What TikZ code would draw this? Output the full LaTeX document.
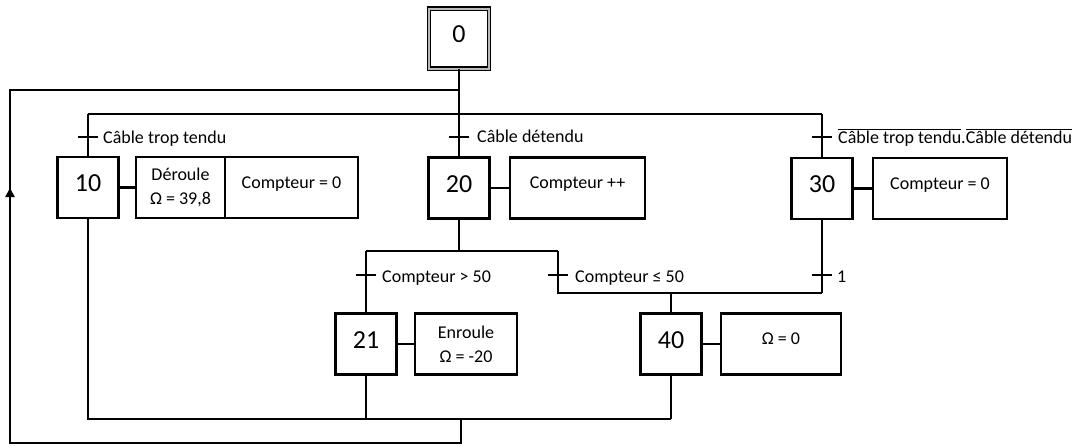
\documentclass[tikz,border=0pt]{standalone}
\usepackage{fontspec}
\setmainfont{Carlito}
\usetikzlibrary{arrows.meta}
\begin{document}
\begin{tikzpicture}[x=1pt,y=-1pt,
  ln/.style={line width=2.3pt},
  stepbox/.style={draw, line width=2.3pt, minimum width=61pt, minimum height=61pt, inner sep=0pt},
  num/.style={inner sep=0pt, font=\fontsize{26}{30}\selectfont},
  actbox/.style={draw, line width=2.3pt, minimum height=61pt, inner sep=0pt, align=center, font=\fontsize{18}{24}\selectfont},
  acttxt/.style={inner sep=0pt, font=\fontsize{18}{24}\selectfont},
  lbl/.style={anchor=base west, inner sep=0pt, font=\fontsize{18}{22}\selectfont}]
\useasboundingbox (0,0) rectangle (1083,445);

% initial step
\node[draw, line width=1.4pt, double=gray!55, double distance=2pt, minimum width=60pt, minimum height=60pt, inner sep=0pt,
      label={[num, yshift=4.5pt]center:0}] (s0) at (459,38.5) {};

% steps
\node[stepbox, label={[num, yshift=4pt]center:10}] (s10) at (88,187.5) {};
\node[stepbox, label={[num, yshift=4pt]center:20}] (s20) at (459,188) {};
\node[stepbox, label={[num, yshift=4pt]center:30}] (s30) at (822,188.5) {};
\node[stepbox, label={[num, yshift=4pt]center:21}] (s21) at (366,344) {};
\node[stepbox, label={[num, yshift=4pt]center:40}] (s40) at (671,344) {};

% actions
\node[actbox, minimum width=89pt] (a10a) at (180.5,187.5) {Déroule\\Ω = 39,8};
\node[actbox, minimum width=133pt, label={[acttxt, yshift=3.5pt]center:Compteur = 0}] (a10b) at (291.5,187.5) {};
\node[actbox, minimum width=135pt, label={[acttxt, yshift=3.5pt]center:Compteur ++}] (a20) at (577.5,188) {};
\node[actbox, minimum width=134pt, label={[acttxt, yshift=3.5pt]center:Compteur = 0}] (a30) at (940,188.5) {};
\node[actbox, minimum width=102pt] (a21) at (466,344) {Enroule\\Ω = -20};
\node[actbox, minimum width=120pt, label={[acttxt, yshift=5pt]center:Ω = 0}] (a40) at (781,344) {};

\draw[ln] (s10.east) -- (a10a.west);
\draw[ln] (s20.east) -- (a20.west);
\draw[ln] (s30.east) -- (a30.west);
\draw[ln] (s21.east) -- (a21.west);
\draw[ln] (s40.east) -- (a40.west);

% coordinates
\coordinate (j0) at (459,90);
\coordinate (d1) at (459,114);
\coordinate (d1L) at (88,114);
\coordinate (d1R) at (822,114);
\coordinate (d2) at (459,251);
\coordinate (d2L) at (366,251);
\coordinate (d2R) at (558,251);
\coordinate (c2L) at (558,293);
\coordinate (c2R) at (822,293);
\coordinate (c2M) at (671,293);
\coordinate (c3L) at (88,419);
\coordinate (c3R) at (671,419);
\coordinate (c3M) at (461,419);
\coordinate (lb) at (461,443);
\coordinate (lbl) at (10,443);
\coordinate (ltl) at (10,90);

\coordinate (t10) at (88,137);
\coordinate (t20) at (459,137);
\coordinate (t30) at (822,137);
\coordinate (t21) at (366,275);
\coordinate (t40) at (558,275);
\coordinate (t1)  at (822,275);

% links
\draw[ln] (s0.south) -- (d1);
\draw[ln] (d1L) -- (d1R);
\draw[ln] (d1L) -- (s10.north);
\draw[ln] (d1) -- (s20.north);
\draw[ln] (d1R) -- (s30.north);
\draw[ln] (s20.south) -- (d2);
\draw[ln] (d2L) -- (d2R);
\draw[ln] (d2L) -- (s21.north);
\draw[ln] (d2R) -- (c2L) -- (c2R);
\draw[ln] (s30.south) -- (c2R);
\draw[ln] (c2M) -- (s40.north);
\draw[ln] (s10.south) -- (c3L) -- (c3R);
\draw[ln] (s21.south) -- (s21.south |- c3L);
\draw[ln] (s40.south) -- (c3R);
\draw[ln] (c3M) -- (lb) -- (lbl) -- (ltl) -- (j0);
\draw[line width=2.3pt, -{Triangle[length=9pt,width=9pt]}] (10,205) -- (10,188);

% transitions
\foreach \t in {t10,t20,t30,t21,t40,t1}
  \draw[ln] ([xshift=-10pt]\t) -- ([xshift=10pt]\t);

\node[lbl] (l10) at (103,143) {Câble trop tendu};
\node[lbl] (l20) at (477,142) {Câble détendu};
\node[lbl] (l30) at (838,143.5) {$\overline{\mbox{Câble trop tendu}}$.$\overline{\mbox{Câble détendu}}$};
\node[lbl] (l21) at (382,282.5) {Compteur > 50};
\node[lbl] (l40) at (575,282.5) {Compteur ≤ 50};
\node[lbl] (l1) at (837,282) {1};
\end{tikzpicture}
\end{document}
